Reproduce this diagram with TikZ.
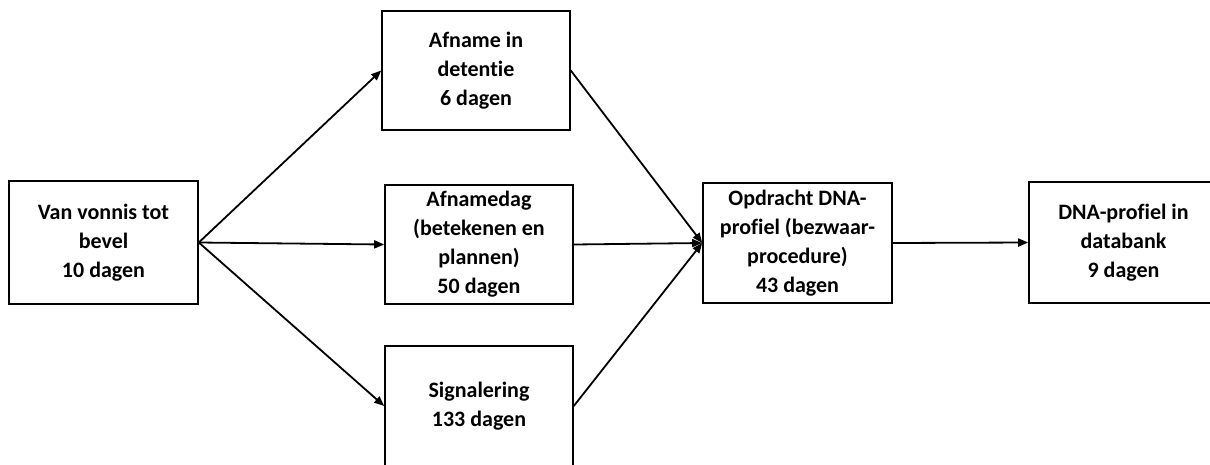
\documentclass[tikz,border=0pt]{standalone}
\usepackage{fontspec}
\setmainfont{Carlito}[Ligatures=NoCommon]
\usetikzlibrary{arrows.meta}
\tikzset{
  box/.style={draw=black, line width=1.6pt, fill=white, align=center, inner sep=0pt,
    font=\bfseries\fontsize{22}{29}\selectfont},
  conn/.style={line width=1.8pt, -{Triangle[length=10pt,width=8pt]}}
}
\begin{document}
\begin{tikzpicture}[x=1pt,y=-1pt]
\useasboundingbox (0,0) rectangle (1210,464);
\clip (0,0) rectangle (1210,464);
\fill[white] (0,0) rectangle (1210,464);
\node[box, minimum width=189pt, minimum height=123pt] (b1) at (103.5,242.5) {Van vonnis tot\\bevel\\10 dagen};
\node[box, minimum width=188pt, minimum height=119pt] (b2) at (476,70.5) {Afname in\\detentie\\6 dagen};
\node[box, minimum width=188pt, minimum height=119pt] (b3) at (479,244.5) {Afnamedag\\(betekenen en\\plannen)\\50 dagen};
\node[box, minimum width=188pt, minimum height=120pt] (b4) at (479,406) {Signalering\\133 dagen};
\node[box, minimum width=189pt, minimum height=120pt] (b5) at (797.5,243) {Opdracht DNA-\\profiel (bezwaar-\\procedure)\\43 dagen};
\node[box, minimum width=189pt, minimum height=121pt] (b6) at (1123.5,242.5) {DNA-profiel in\\databank\\9 dagen};
\draw[conn] (b1.east) -- (b2.west);
\draw[conn] (b1.east) -- (b3.west);
\draw[conn] (b1.east) -- (b4.west);
\draw[conn] (b2.east) -- (b5.west);
\draw[conn] (b3.east) -- (b5.west);
\draw[conn] (b4.east) -- (b5.west);
\draw[conn] (b5.east) -- (b6.west);
\end{tikzpicture}
\end{document}
